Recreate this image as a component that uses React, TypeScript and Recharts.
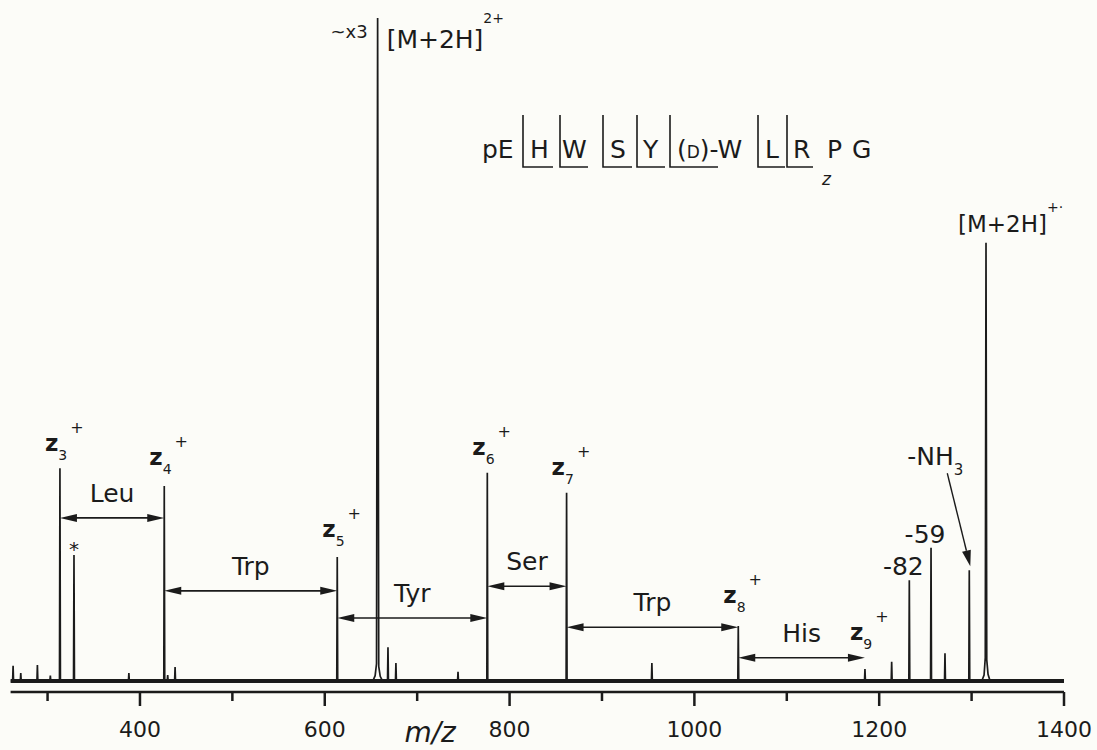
import { LineChart, Line, XAxis, YAxis, ReferenceLine, ReferenceDot, Customized } from "recharts";

const INK = "#1b1b1b";
const FONT = "'DejaVu Sans', 'Liberation Sans', sans-serif";

// stick peaks: m/z and height in % of the [M+2H]2+ peak
const stickMz = [262.7, 271, 289, 303, 313.4, 328.6, 388, 426.3, 430, 438, 613.5, 668.4, 677, 744.2, 775.9, 861.7, 954, 1047.5, 1184.6, 1213.5, 1232.6, 1256.1, 1271.2, 1297.5];
const stickIntensity = [2.3, 1.2, 2.4, 0.8, 32.1, 19.0, 1.2, 29.4, 0.9, 2.1, 18.7, 5.1, 2.7, 1.4, 31.4, 28.4, 2.7, 8.3, 1.8, 2.9, 15.2, 20.1, 4.2, 16.7];

// broadened precursor peaks
const doublyMz = [652, 654.5, 656, 657.2, 658.4, 660, 662.5];
const doublyIntensity = [0, 0.8, 2.6, 100, 2.2, 0.7, 0];
const singlyMz = [1311, 1313.5, 1314.8, 1315.6, 1316.4, 1317.8, 1320];
const singlyIntensity = [0, 0.9, 3.5, 66.1, 3.2, 1.0, 0];

// z-ion series
const zIonNumber = ["3", "4", "5", "6", "7", "8", "9"];
const zIonMz = [313.4, 426.3, 613.5, 775.9, 861.7, 1047.5, 1184.6];
const zIonIntensity = [32.1, 29.4, 18.7, 31.4, 28.4, 8.3, 1.8];

// residue gaps between consecutive z ions, and the level of each arrow
const gapResidue = ["Leu", "Trp", "Tyr", "Ser", "Trp", "His"];
const gapLevel = [24.6, 13.6, 9.5, 14.3, 8.1, 3.5];

// neutral losses from the charge-reduced species
const lossLabel = ["-82", "-59"];
const lossMz = [1232.6, 1256.1];
const lossIntensity = [15.2, 20.1];
const ammoniaLossMz = 1297.5;
const ammoniaLossIntensity = 16.7;

const starMz = 328.6;
const starIntensity = 19.0;

const mzTicks = [300, 400, 500, 600, 700, 800, 900, 1000, 1100, 1200, 1300, 1400];

// sequence annotation
const residues = ["pE", "H", "W", "S", "Y", "(D)-W", "L", "R", "P", "G"];

// layout only
const zLabelLift = [17, 21, 20, 18, 18, 23, 29];
const residueX = [482, 530, 562, 610, 643, 677, 765, 793, 827, 852];
const bracketX = [[523, 553], [560, 588], [603, 632], [637, 665], [670, 718], [758, 785], [787, 813]];

function buildSpectrum() {
  const pts: { mz: number; intensity: number }[] = [{ mz: 260, intensity: 0 }, { mz: 1400, intensity: 0 }];
  stickMz.forEach((mz, i) => {
    pts.push({ mz: mz - 0.5, intensity: 0 }, { mz, intensity: stickIntensity[i] }, { mz: mz + 0.5, intensity: 0 });
  });
  doublyMz.forEach((mz, i) => pts.push({ mz, intensity: doublyIntensity[i] }));
  singlyMz.forEach((mz, i) => pts.push({ mz, intensity: singlyIntensity[i] }));
  return pts.sort((a, b) => a.mz - b.mz);
}

const txt = { fontFamily: FONT, fill: INK } as const;

function MzTick(props: any) {
  const { x, y, payload } = props;
  const major = payload.value % 200 === 0;
  return (
    <g>
      <line x1={x} x2={x} y1={y} y2={y + (major ? 14 : 9)} stroke={INK} strokeWidth={2.5} />
      {major && (
        <text x={x} y={y + 45} textAnchor="middle" fontSize={22} {...txt}>
          {payload.value}
        </text>
      )}
    </g>
  );
}

function zLabel(num: string, lift: number) {
  return (p: any) => (
    <text x={p.cx - 15} y={p.cy - lift} fontSize={23} fontWeight="bold" {...txt}>
      z
      <tspan dy={9} fontSize={14} fontWeight="normal">{num}</tspan>
      <tspan dx={3} dy={-27} fontSize={16} fontWeight="normal">+</tspan>
    </text>
  );
}

function gapArrow(name: string) {
  return (p: any) => {
    const { x1, x2, y1 } = p;
    const L = 17;
    const W = 4;
    return (
      <g>
        <line x1={x1 + 6} x2={x2 - 6} y1={y1} y2={y1} stroke={INK} strokeWidth={1.6} />
        <polygon points={`${x1},${y1} ${x1 + L},${y1 - W} ${x1 + L},${y1 + W}`} fill={INK} />
        <polygon points={`${x2},${y1} ${x2 - L},${y1 - W} ${x2 - L},${y1 + W}`} fill={INK} />
        <text x={(x1 + x2) / 2} y={y1 - 16} textAnchor="middle" fontSize={25} {...txt}>
          {name}
        </text>
      </g>
    );
  };
}

function lossText(label: string) {
  return (p: any) => (
    <text x={p.cx - 6} y={p.cy - 5} textAnchor="middle" fontSize={25} {...txt}>
      {label}
    </text>
  );
}

function AmmoniaLabel(p: any) {
  const tipX = p.cx + 1;
  const tipY = p.cy - 4;
  const sx = p.cx - 22;
  const sy = p.cy - 97;
  const len = Math.hypot(tipX - sx, tipY - sy);
  const ux = (tipX - sx) / len;
  const uy = (tipY - sy) / len;
  const L = 16;
  const W = 4.5;
  const bx = tipX - ux * L;
  const by = tipY - uy * L;
  return (
    <g>
      <line x1={sx} y1={sy} x2={bx} y2={by} stroke={INK} strokeWidth={1.4} />
      <polygon
        points={`${tipX},${tipY} ${bx - uy * W},${by + ux * W} ${bx + uy * W},${by - ux * W}`}
        fill={INK}
      />
      <text x={p.cx - 62} y={p.cy - 105} fontSize={25} {...txt}>
        -NH
        <tspan dy={10} fontSize={15}>3</tspan>
      </text>
    </g>
  );
}

function DoublyLabel(p: any) {
  return (
    <g>
      <text x={p.cx - 10} y={p.cy + 20} textAnchor="end" fontSize={18} {...txt}>~x3</text>
      <text x={p.cx + 9} y={p.cy + 30} fontSize={25} {...txt}>
        [M+2H]
        <tspan dy={-25} fontSize={14}>2+</tspan>
      </text>
    </g>
  );
}

function SinglyLabel(p: any) {
  return (
    <text x={p.cx - 28} y={p.cy - 11} fontSize={23} {...txt}>
      [M+2H]
      <tspan dy={-20} fontSize={14}>+·</tspan>
    </text>
  );
}

function StarLabel(p: any) {
  return (
    <text x={p.cx} y={p.cy + 1} textAnchor="middle" fontSize={20} {...txt}>*</text>
  );
}

function AxisTitle(p: any) {
  return (
    <text x={p.cx} y={p.cy + 50} textAnchor="middle" fontSize={28} fontStyle="italic" {...txt}>
      m/z
    </text>
  );
}

function Sequence() {
  return (
    <g>
      {residues.map((r, i) =>
        r === "(D)-W" ? (
          <text key={i} x={residueX[i]} y={158} fontSize={25} {...txt}>
            (<tspan fontSize={17}>D</tspan>)-W
          </text>
        ) : (
          <text key={i} x={residueX[i]} y={158} fontSize={25} {...txt}>
            {r}
          </text>
        )
      )}
      {bracketX.map(([a, b], i) => (
        <path key={i} d={`M${a},115 L${a},167 L${b},167`} fill="none" stroke={INK} strokeWidth={1.6} />
      ))}
      <text x={822} y={185} fontSize={17} fontStyle="italic" {...txt}>z</text>
    </g>
  );
}

export default function App() {
  const spectrum = buildSpectrum();
  return (
    <div style={{ width: 1097, height: 750, background: "#fcfcf8" }}>
      <style>{"body{margin:0;background:#fcfcf8}"}</style>
      <LineChart width={1097} height={750} data={spectrum} margin={{ top: 18, right: 33, bottom: 8, left: 10.6 }}>
        <XAxis
          dataKey="mz"
          type="number"
          domain={[260, 1400]}
          allowDataOverflow
          ticks={mzTicks}
          interval={0}
          height={50}
          axisLine={{ stroke: INK, strokeWidth: 2.5 }}
          tickLine={false}
          tickSize={0}
          tickMargin={0}
          tick={(props: any) => <MzTick {...props} />}
        />
        <YAxis hide type="number" domain={[-1.66, 100]} allowDataOverflow />
        <ReferenceLine y={0} stroke={INK} strokeWidth={4} ifOverflow="visible" />
        <Line
          dataKey="intensity"
          type="linear"
          stroke={INK}
          strokeWidth={1.7}
          dot={false}
          activeDot={false}
          isAnimationActive={false}
        />
        {gapResidue.map((name, i) => (
          <ReferenceLine
            key={`gap-${i}`}
            segment={[
              { x: zIonMz[i], y: gapLevel[i] },
              { x: zIonMz[i + 1], y: gapLevel[i] },
            ]}
            ifOverflow="visible"
            shape={gapArrow(name)}
          />
        ))}
        {zIonNumber.map((num, i) => (
          <ReferenceDot
            key={`z-${num}`}
            x={zIonMz[i]}
            y={zIonIntensity[i]}
            r={0}
            ifOverflow="visible"
            shape={zLabel(num, zLabelLift[i])}
          />
        ))}
        {lossLabel.map((label, i) => (
          <ReferenceDot key={label} x={lossMz[i]} y={lossIntensity[i]} r={0} ifOverflow="visible" shape={lossText(label)} />
        ))}
        <ReferenceDot x={ammoniaLossMz} y={ammoniaLossIntensity} r={0} ifOverflow="visible" shape={AmmoniaLabel} />
        <ReferenceDot x={657.2} y={100} r={0} ifOverflow="visible" shape={DoublyLabel} />
        <ReferenceDot x={1315.6} y={66.1} r={0} ifOverflow="visible" shape={SinglyLabel} />
        <ReferenceDot x={starMz} y={starIntensity} r={0} ifOverflow="visible" shape={StarLabel} />
        <ReferenceDot x={714} y={-1.66} r={0} ifOverflow="visible" shape={AxisTitle} />
        <Customized component={<Sequence />} />
      </LineChart>
    </div>
  );
}
